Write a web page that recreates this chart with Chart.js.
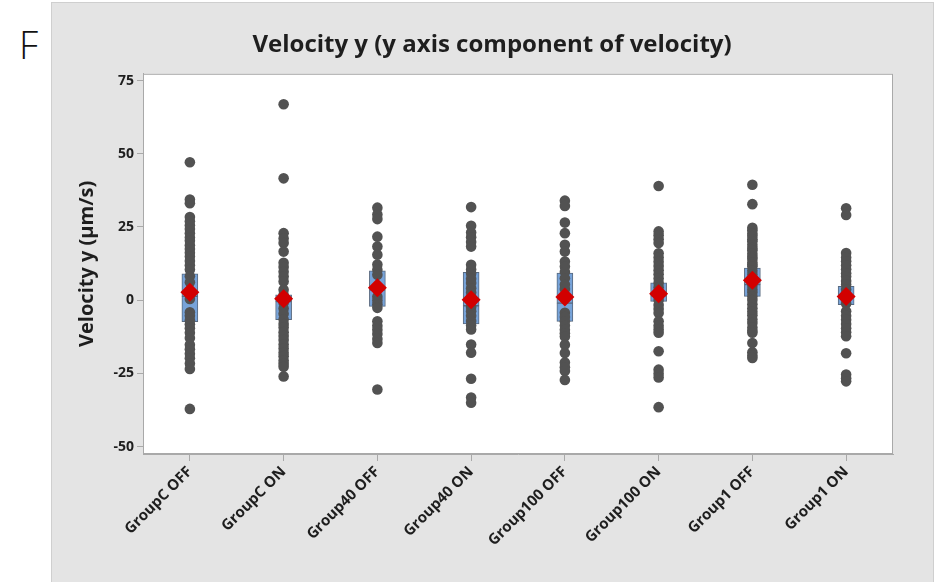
<!DOCTYPE html>
<html>
<head>
<meta charset="utf-8">
<script src="https://cdn.jsdelivr.net/npm/chart.js@4.4.1/dist/chart.umd.min.js"></script>
<style>
  body { margin: 0; background: #fff; width: 941px; height: 582px; overflow: hidden; position: relative; font-family: "Open Sans", sans-serif; }
  #letter { position: absolute; left: 19px; top: 18px; font-size: 38px; font-weight: 300; color: #111; }
  #panel { position: absolute; left: 51px; top: 2px; width: 881px; height: 600px; background: #e4e4e4; border: 1px solid #cfcfcf; }
  #chart { position: absolute; left: 0; top: 0; }
</style>
</head>
<body>
<div id="letter">F</div>
<div id="panel"></div>
<canvas id="chart" width="941" height="582"></canvas>
<script>
const groups = ["GroupC OFF", "GroupC ON", "Group40 OFF", "Group40 ON", "Group100 OFF", "Group100 ON", "Group1 OFF", "Group1 ON"];

// Individual values per group (µm/s)
const groupCOff = [47.1, 34.4, 33.1, 28.4, 27, 25.6, 24.3, 22.9, 21.4, 20.3, 18.8, 17.5, 16.2, 14.9, 13.4, 11.9, 10.5, 8.2, 6.1, 3.3, 0.4, -4.1, -5.3, -6.8, -8.2, -9.6, -11.1, -12.9, -15.2, -16.7, -18.3, -19.8, -21.6, -23.5, -37.1];
const groupCOn = [66.9, 41.6, 22.9, 21.1, 19.5, 16.6, 12.8, 11.3, 9.7, 8.1, 6.4, 3.6, 1.9, -0.9, -2.8, -4.6, -6.6, -8.1, -9.3, -10.9, -12.2, -13.6, -15.1, -16.5, -17.9, -19.1, -20.6, -21.7, -22.7, -26];
const group40Off = [31.6, 29.3, 27.7, 21.7, 18.3, 15.5, 12.2, 10.4, 8.7, 1.2, -0.1, -1.4, -2.6, -7.2, -8.7, -10.1, -11.5, -13.2, -14.6, -30.5];
const group40On = [31.8, 25.4, 23.1, 21.5, 19.9, 18.3, 12.1, 10.5, 9.1, 7.3, 5.9, 4.1, 2.6, 0.9, -0.7, -2.3, -3.8, -5.3, -7.1, -8.6, -10, -15.1, -17.9, -26.8, -33.2, -35];
const group100Off = [34, 32.2, 26.5, 22.9, 18.9, 16.6, 13.2, 11.5, 9.6, 7.5, 5.4, 3.8, -4.3, -5.7, -7.2, -8.6, -10.1, -11.3, -12.4, -15.2, -18, -21.3, -22.9, -24.2, -27.2];
const group100On = [39, 23.5, 22.2, 20.8, 19.5, 16, 14.6, 13.1, 11.7, 10.2, 8.9, 7.4, 5.9, 4.4, 3.1, 1.4, 0.1, -1.6, -3, -4.4, -7.2, -8.7, -10, -11.1, -17.4, -23.7, -25.1, -26.4, -36.5];
const group1Off = [39.4, 32.8, 24.7, 23.9, 22.8, 21.9, 20.8, 20.1, 18.9, 17.8, 17.1, 15.9, 14.8, 14.1, 12.9, 12.1, 11.5, 10.1, 8.8, 7.4, 6.3, 4.9, 3.7, 2.6, 1.3, 0.1, -1.4, -2.7, -3.9, -5.1, -6.6, -7.8, -9.3, -10.4, -11.1, -14.6, -17.8, -18.9, -19.7];
const group1On = [31.4, 29.1, 16.1, 14.6, 13.3, 11.9, 10.6, 9.2, 8.1, 6.6, 5.4, 3.7, 2.1, 0.5, -1.1, -3.8, -5.3, -6.7, -8.1, -9.6, -10.9, -12.3, -18.1, -25.4, -26.6, -27.7];

// Box summary (first quartile, median, third quartile) and group means
const boxQ1 = [-7.3, -6.6, -2.1, -8.1, -7.2, -0.4, 1.3, -1.5];
const boxMedian = [1.3, -0.5, 3.5, -1.9, -1.0, 1.5, 5.3, 1.0];
const boxQ3 = [9.0, 1.8, 10.0, 9.5, 9.3, 5.9, 11.0, 4.7];
const groupMeans = [2.7, 0.5, 4.3, 0.2, 1.1, 2.2, 6.8, 1.3];

const yTicks = [-50, -25, 0, 25, 50, 75];

const samples = [groupCOff, groupCOn, group40Off, group40On, group100Off, group100On, group1Off, group1On];
const points = samples.flatMap((vals, i) => vals.map(v => ({ x: groups[i], y: v })));

const frameColor = "#a9a9a9";
const textColor = "#1e1e1e";
const fontFamily = "'Open Sans', sans-serif";

// white plot area with a thin frame around it
const plotFrame = {
  id: "plotFrame",
  beforeDraw(chart) {
    const { ctx, chartArea: a } = chart;
    ctx.save();
    ctx.fillStyle = "#ffffff";
    ctx.fillRect(a.left, a.top, a.right - a.left, a.bottom - a.top);
    ctx.restore();
  },
  afterDraw(chart) {
    const { ctx, chartArea: a } = chart;
    ctx.save();
    ctx.strokeStyle = frameColor;
    ctx.lineWidth = 1;
    ctx.strokeRect(a.left + 0.5, a.top + 0.5, a.right - a.left - 1, a.bottom - a.top - 1);
    ctx.restore();
  }
};

new Chart(document.getElementById("chart"), {
  type: "bar",
  plugins: [plotFrame],
  data: {
    labels: groups,
    datasets: [
      {
        type: "line",
        data: groups.map((g, i) => ({ x: g, y: groupMeans[i] })),
        showLine: false,
        pointStyle: "rectRot",
        pointRadius: 9.5,
        pointBackgroundColor: "#d20000",
        pointBorderWidth: 0,
        order: 0
      },
      {
        type: "line",
        data: points,
        showLine: false,
        pointRadius: 5.3,
        pointBackgroundColor: "#525252",
        pointBorderWidth: 0,
        order: 1
      },
      {
        data: groups.map((g, i) => [boxQ1[i], boxMedian[i]]),
        backgroundColor: "#77a3d9",
        borderColor: "#58697f",
        borderWidth: 1,
        borderSkipped: false,
        barThickness: 16,
        grouped: false,
        order: 2
      },
      {
        data: groups.map((g, i) => [boxMedian[i], boxQ3[i]]),
        backgroundColor: "#77a3d9",
        borderColor: "#58697f",
        borderWidth: 1,
        borderSkipped: false,
        barThickness: 16,
        grouped: false,
        order: 2
      }
    ]
  },
  options: {
    responsive: false,
    animation: false,
    events: [],
    layout: { padding: { left: 51, right: 8, top: 0, bottom: 0 } },
    plugins: {
      legend: { display: false },
      tooltip: { enabled: false },
      title: {
        display: true,
        text: "Velocity y (y axis component of velocity)",
        color: textColor,
        font: { family: fontFamily, size: 24, weight: "bold" },
        padding: { top: 31, bottom: 14 }
      }
    },
    scales: {
      x: {
        type: "category",
        offset: true,
        grid: { drawOnChartArea: false, tickLength: 7, color: frameColor, offset: false },
        border: { color: frameColor },
        ticks: {
          minRotation: 45,
          maxRotation: 45,
          padding: 2,
          color: textColor,
          font: { family: fontFamily, size: 15, weight: "bold" }
        },
        afterFit: s => { s.height = 128; }
      },
      y: {
        type: "linear",
        position: "left",
        min: -52.5,
        max: 77.3,
        afterBuildTicks: s => { s.ticks = yTicks.map(v => ({ value: v })); },
        grid: { drawOnChartArea: false, tickLength: 6, color: frameColor },
        border: { color: frameColor },
        ticks: {
          padding: 3,
          color: textColor,
          font: { family: fontFamily, size: 14, weight: "bold" }
        },
        title: {
          display: true,
          text: "Velocity y (µm/s)",
          color: textColor,
          font: { family: fontFamily, size: 20, weight: "bold" },
          padding: { top: 24, bottom: 0 }
        },
        afterFit: s => { s.width = 92; }
      },
      // empty right-hand gutter so the title sits centred over the panel
      yRight: {
        type: "linear",
        position: "right",
        grid: { display: false },
        border: { display: false },
        ticks: { display: false },
        afterFit: s => { s.width = 40; }
      }
    }
  }
});
</script>
</body>
</html>
